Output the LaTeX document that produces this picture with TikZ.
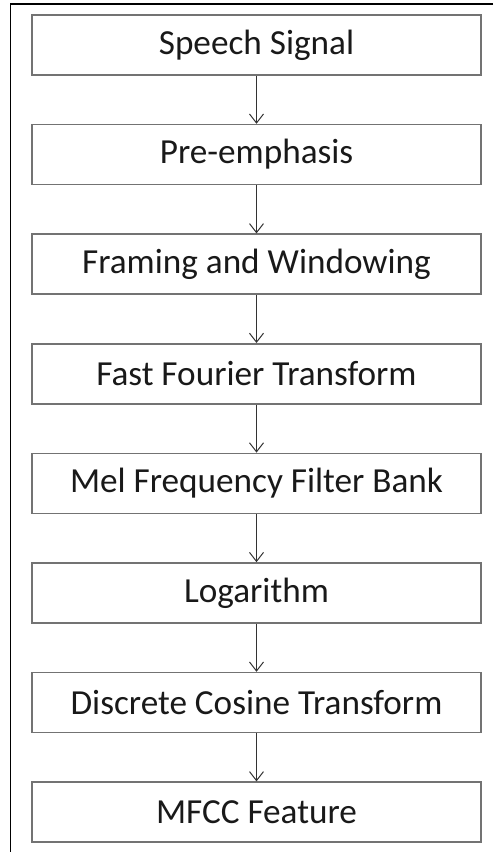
\documentclass[tikz,border=0pt]{standalone}
\usepackage{fontspec}
\setmainfont{Carlito}
\usetikzlibrary{positioning,arrows.meta}

\begin{document}
\begin{tikzpicture}[node distance={24pt}, main/.style = {draw=black!55, line width=0.8pt, minimum width=224.5pt, minimum height=30pt, inner sep=0pt, font=\fontsize{17.6}{20}\selectfont, text=black!90}, arr/.style = {-{Straight Barb[length=4.5pt,width=7pt]}, line width=0.5pt, black!80}] 
		\useasboundingbox (0,0) rectangle (246.5pt,-426pt);
		% frame, top and left only
		\draw[line width=0.9pt] (246.5pt,-2pt) -- (5.2pt,-2pt) -- (5.2pt,-426pt);
		\node[main] (1) at (128.25pt,-22.5pt) {Speech Signal}; 
		\node[main] (2) [below=of 1] {Pre-emphasis};
		\node[main] (3) [below=of 2] {Framing and Windowing};
		\node[main] (4) [below=of 3] {Fast Fourier Transform};
		\node[main] (5) [below=of 4] {Mel Frequency Filter Bank};
		\node[main] (6) [below=of 5] {Logarithm};
		\node[main] (7) [below=of 6] {Discrete Cosine Transform};
		\node[main] (8) [below=of 7] {MFCC Feature};
		\foreach \i [count=\j from 2] in {1,...,7}
			\draw[arr] (\i) -- (\j);
	\end{tikzpicture}
\end{document}
